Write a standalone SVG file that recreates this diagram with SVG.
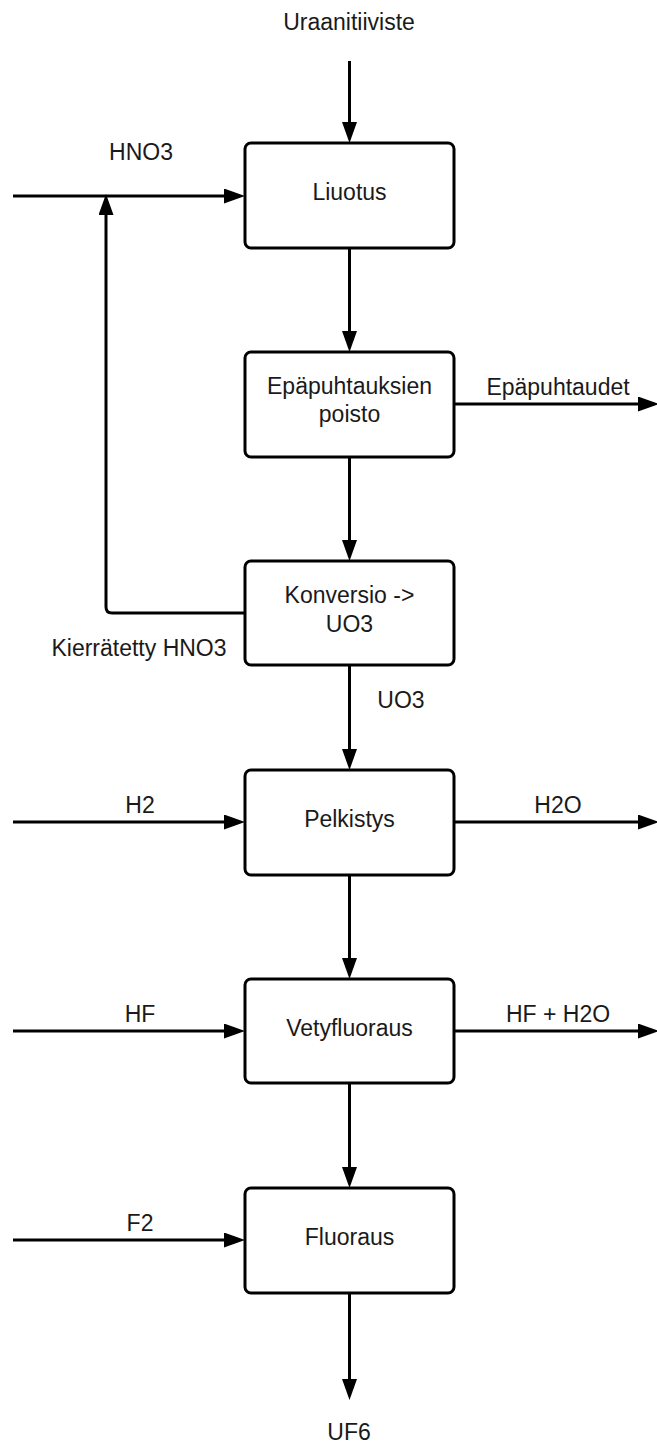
<svg xmlns="http://www.w3.org/2000/svg" width="657" height="1443" viewBox="0 0 657 1443">
<style>
text{font-family:"Liberation Sans",Arial,sans-serif;font-size:23px;fill:#1a1a1a;text-anchor:middle}
.box{fill:#fff;stroke:#000;stroke-width:3}
.c{fill:none;stroke:#000;stroke-width:3}
</style>
<defs>
<marker id="ah" markerUnits="userSpaceOnUse" markerWidth="21" markerHeight="15" refX="0" refY="7.5" orient="auto" viewBox="0 0 21 15">
<path d="M0,0 L21,7.5 L0,15 z" fill="#000"/>
</marker>
</defs>
<g id="connectors">
<path class="c" d="M349.5,61 V122" marker-end="url(#ah)"/>
<path class="c" d="M13,196 H224" marker-end="url(#ah)"/>
<path class="c" d="M349.5,248 V331" marker-end="url(#ah)"/>
<path class="c" d="M349.5,457 V540" marker-end="url(#ah)"/>
<path class="c" d="M454,404 H638" marker-end="url(#ah)"/>
<path class="c" d="M245,613 H112 Q106,613 106,607 V215" marker-end="url(#ah)"/>
<path class="c" d="M349.5,665 V749" marker-end="url(#ah)"/>
<path class="c" d="M13,822 H224" marker-end="url(#ah)"/>
<path class="c" d="M454,822 H638" marker-end="url(#ah)"/>
<path class="c" d="M349.5,875 V958" marker-end="url(#ah)"/>
<path class="c" d="M13,1031 H224" marker-end="url(#ah)"/>
<path class="c" d="M454,1031 H638" marker-end="url(#ah)"/>
<path class="c" d="M349.5,1083 V1167" marker-end="url(#ah)"/>
<path class="c" d="M13,1240 H224" marker-end="url(#ah)"/>
<path class="c" d="M349.5,1293 V1379" marker-end="url(#ah)"/>
</g>
<g id="labels">
<text x="349" y="30">Uraanitiiviste</text>
<text x="141" y="160">HNO3</text>
<text x="558" y="395">Epäpuhtaudet</text>
<text x="139" y="656">Kierrätetty HNO3</text>
<text x="401" y="708">UO3</text>
<text x="140" y="813">H2</text>
<text x="558" y="813">H2O</text>
<text x="140" y="1022">HF</text>
<text x="558" y="1022">HF + H2O</text>
<text x="140" y="1231">F2</text>
<text x="349" y="1440">UF6</text>
</g>
<g id="liuotus">
<rect class="box" x="245" y="143" width="209" height="105" rx="6"/>
<text x="349.5" y="200">Liuotus</text>
</g>
<g id="epapuhtauksien-poisto">
<rect class="box" x="245" y="352" width="209" height="105" rx="6"/>
<text x="349.5" y="394">Epäpuhtauksien</text>
<text x="349.5" y="422">poisto</text>
</g>
<g id="konversio">
<rect class="box" x="245" y="561" width="209" height="104" rx="6"/>
<text x="349.5" y="603">Konversio -&gt;</text>
<text x="349.5" y="632">UO3</text>
</g>
<g id="pelkistys">
<rect class="box" x="245" y="770" width="209" height="105" rx="6"/>
<text x="349.5" y="827">Pelkistys</text>
</g>
<g id="vetyfluoraus">
<rect class="box" x="245" y="979" width="209" height="104" rx="6"/>
<text x="349.5" y="1036">Vetyfluoraus</text>
</g>
<g id="fluoraus">
<rect class="box" x="245" y="1188" width="209" height="105" rx="6"/>
<text x="349.5" y="1245">Fluoraus</text>
</g>
</svg>
